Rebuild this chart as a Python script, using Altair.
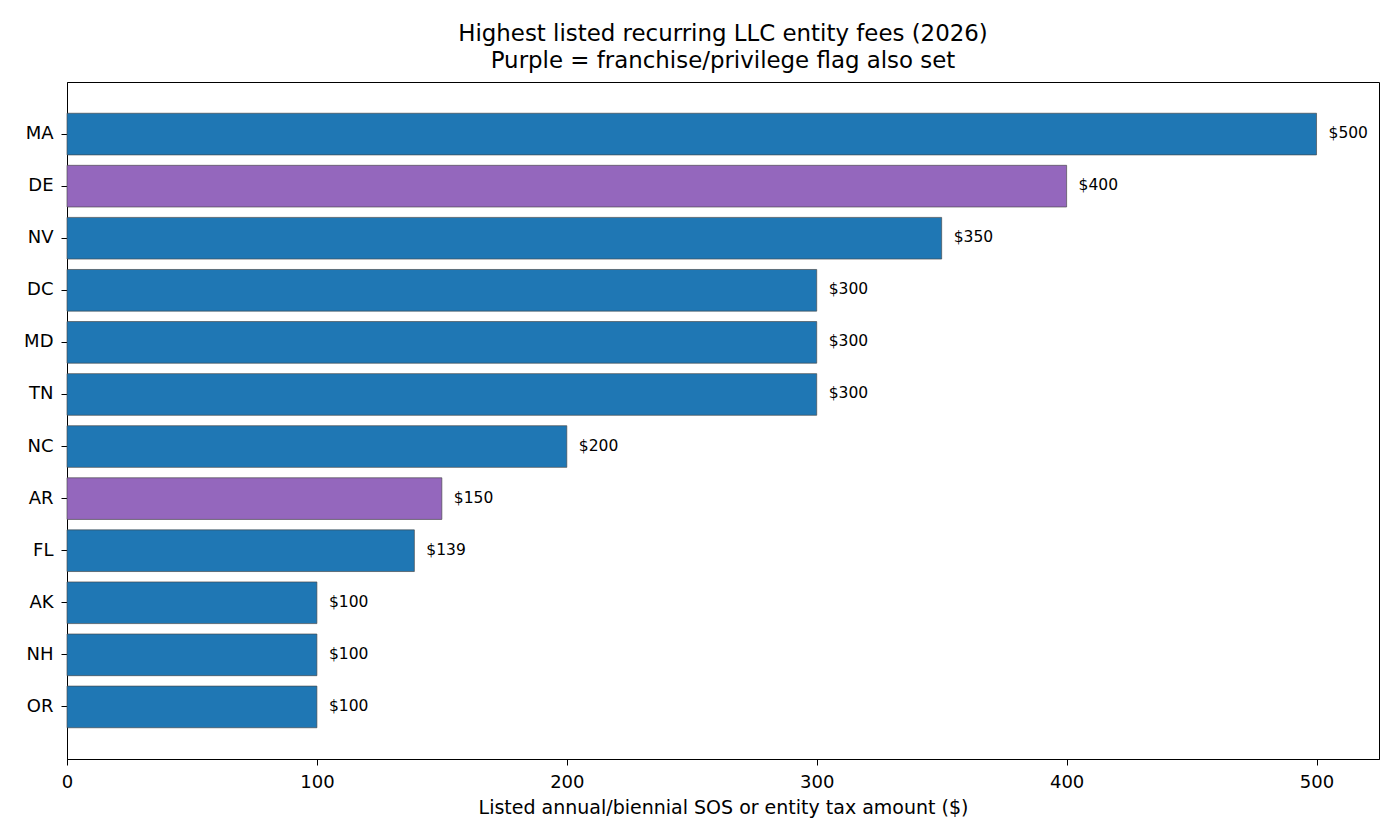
import altair as alt
import pandas as pd

states = ["MA", "DE", "NV", "DC", "MD", "TN", "NC", "AR", "FL", "AK", "NH", "OR"]
fees = [500, 400, 350, 300, 300, 300, 200, 150, 139, 100, 100, 100]
franchise_flag = [False, True, False, False, False, False, False, True, False, False, False, False]
x_ticks = [0, 100, 200, 300, 400, 500]

df = pd.DataFrame({
    "state": states,
    "fee": fees,
    "flag": ["yes" if f else "no" for f in franchise_flag],
    "label": [f"${v}" for v in fees],
})

FONT = "DejaVu Sans"

y_enc = alt.Y(
    "state:N",
    sort=states,
    title=None,
    scale=alt.Scale(paddingInner=0.2, paddingOuter=0.6),
    axis=alt.Axis(
        labelFont=FONT, labelFontSize=18, labelColor="black",
        tickSize=6, tickColor="black", labelPadding=8,
        domainColor="black", domainWidth=1, grid=False,
    ),
)

x_enc = alt.X(
    "fee:Q",
    title="Listed annual/biennial SOS or entity tax amount ($)",
    scale=alt.Scale(domain=[0, 525], nice=False, zero=True),
    axis=alt.Axis(
        values=x_ticks, format="d", labelFlush=False,
        labelFont=FONT, labelFontSize=18, labelColor="black",
        tickSize=6, tickColor="black", labelPadding=8,
        domainColor="black", domainWidth=1, grid=False,
        titleFont=FONT, titleFontSize=19, titleFontWeight="normal",
        titleColor="black", titlePadding=7,
    ),
)

bars = alt.Chart(df).mark_bar(
    stroke="#444444", strokeWidth=0.8, strokeOpacity=0.8
).encode(
    y=y_enc,
    x=x_enc,
    color=alt.Color(
        "flag:N",
        scale=alt.Scale(domain=["no", "yes"], range=["#1f77b4", "#9467bd"]),
        legend=None,
    ),
)

labels = alt.Chart(df).mark_text(
    align="left", baseline="middle", dx=12, dy=-1,
    font=FONT, fontSize=15.5, color="black",
).encode(
    y=alt.Y("state:N", sort=states),
    x=alt.X("fee:Q"),
    text="label:N",
)

chart = alt.layer(bars, labels).properties(
    width=1312,
    height=677,
    title=alt.Title(
        ["Highest listed recurring LLC entity fees (2026)",
         "Purple = franchise/privilege flag also set"],
        font=FONT, fontSize=22.9, fontWeight="normal", color="black",
        lineHeight=27, offset=9, anchor="middle",
    ),
    autosize=alt.AutoSizeParams(type="none"),
    padding={"left": 59, "top": 74, "right": 13, "bottom": 73},
).configure(
    background="white"
).configure_view(
    stroke="black", strokeWidth=1
)

chart.save("out.html", embed_options={"renderer": "svg", "actions": False})
